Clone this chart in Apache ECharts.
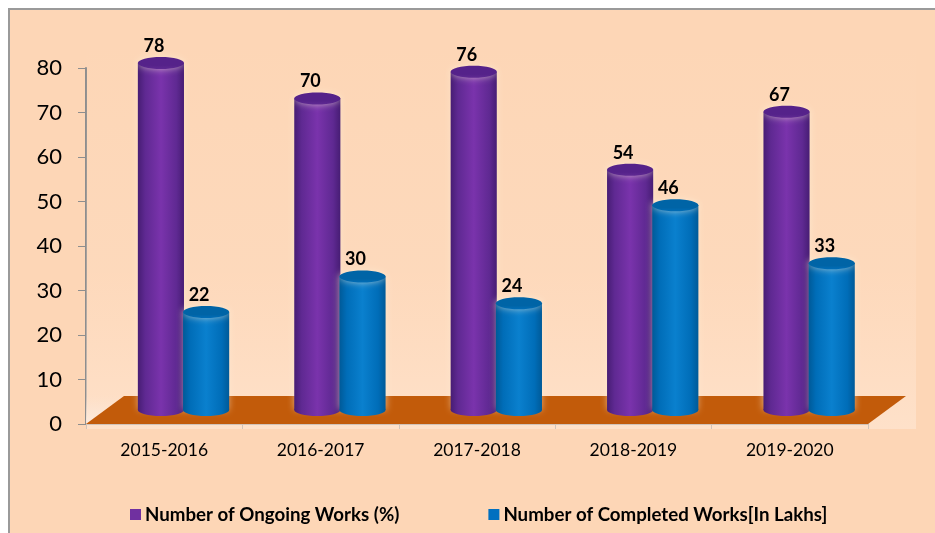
<!DOCTYPE html>
<html>
<head>
<meta charset="utf-8">
<style>html,body{margin:0;padding:0;background:#fff}#c{width:935px;height:533px}</style>
<script src="https://cdn.jsdelivr.net/npm/echarts@6/dist/echarts.min.js"></script>
</head>
<body>
<div id="c"></div>
<script>
const categories = ['2015-2016','2016-2017','2017-2018','2018-2019','2019-2020'];
const ongoingWorks = [78,70,76,54,67];
const completedWorks = [22,30,24,46,33];
const ongoingName = 'Number of Ongoing Works (%)';
const completedName = 'Number of Completed Works[In Lakhs]';
const yTicks = {min:0,max:80,interval:10};

const font = 'Lato, "Open Sans", sans-serif';
const depthY = 14, floorDepthY = 28, floorDepthX = 38;

function cylinder(shift, edge, side, mid, top){
  return function(params, api){
    const idx = api.value(0), v = api.value(1);
    const p = api.coord([idx, v]), b = api.coord([idx, 0]);
    const band = api.size([1,0])[0];
    const w = band*0.295, rx = w/2, ry = 6;
    const cx = p[0] + band*shift;
    const ty = p[1]-depthY, by = b[1]-depthY;
    const fill = {type:'linear',x:0,y:0,x2:1,y2:0,colorStops:[
      {offset:0,color:edge},{offset:.16,color:side},{offset:.5,color:mid},{offset:.84,color:side},{offset:1,color:edge}]};
    const glow = {shadowColor:'rgba(255,240,216,.6)',shadowBlur:7};
    const capFill = {type:'linear',x:0,y:0,x2:0,y2:1,colorStops:[
      {offset:0,color:top},{offset:.7,color:top},{offset:1,color:side}]};
    return {type:'group',children:[
      {type:'rect',shape:{x:cx-rx,y:ty,width:w,height:by-ty},style:Object.assign({fill:fill},glow)},
      {type:'ellipse',shape:{cx:cx,cy:by,rx:rx,ry:ry},style:{fill:fill}},
      {type:'ellipse',shape:{cx:cx,cy:ty,rx:rx,ry:ry},style:Object.assign({fill:capFill},glow)},
      {type:'text',x:cx-7,y:ty-ry-11,style:{text:String(v),fill:'#000',font:'bold 18px '+font,align:'center',verticalAlign:'middle'}}
    ]};
  };
}

function stage(params, api){
  const a = api.coord([0,0]), sys = params.coordSys;
  const L = sys.x, R = sys.x+sys.width, Y = a[1], T = sys.y;
  return {type:'group',silent:true,children:[
    {type:'polygon',shape:{points:[[L,T-26],[R+48,T-26],[R+48,Y+5],[L,Y+5]]},
      style:{fill:{type:'linear',x:0,y:0,x2:0,y2:1,colorStops:[
        {offset:0,color:'rgba(255,226,204,0)'},{offset:.6,color:'rgba(255,226,204,.25)'},{offset:1,color:'rgba(255,232,214,.6)'}]}}},
    {type:'polygon',shape:{points:[[L,Y],[L+floorDepthX,Y-floorDepthY],[L,Y-floorDepthY]]},
      style:{fill:{type:'linear',x:0,y:0,x2:0,y2:1,colorStops:[
        {offset:0,color:'rgba(251,230,214,0)'},{offset:1,color:'#FCEBDE'}]}}},
    {type:'polygon',shape:{points:[[L,Y],[L+floorDepthX,Y-floorDepthY],[R+floorDepthX,Y-floorDepthY],[R,Y]]},style:{fill:'#C25B0A'}}
  ]};
}

const chart = echarts.init(document.getElementById('c'),null,{renderer:'canvas'});
chart.setOption({
  animation:false,
  graphic:[{type:'rect',z:-10,shape:{x:9,y:9,width:960,height:560},style:{fill:'#FDD6B6',stroke:'#9A9A9A',lineWidth:2}}],
  grid:{left:86,right:67,top:68,bottom:109},
  legend:{left:125,top:500,itemWidth:11,itemHeight:11,itemGap:89,icon:'rect',
    data:[ongoingName,completedName],
    textStyle:{fontFamily:font,fontWeight:'bold',fontSize:18.7,color:'#000',padding:[0,0,0,-1]}},
  xAxis:{type:'category',data:categories,
    axisLine:{lineStyle:{color:'#8E8E8E',width:2}},
    axisTick:{show:true,length:5,alignWithLabel:false,lineStyle:{color:'#8E8E8E'}},
    axisLabel:{fontFamily:font,fontSize:17.5,color:'#000',margin:17}},
  yAxis:{type:'value',min:yTicks.min,max:yTicks.max,interval:yTicks.interval,
    splitLine:{show:false},
    axisLine:{show:true,lineStyle:{color:'#8E8E8E',width:2}},
    axisTick:{show:true,length:8,lineStyle:{color:'#8E8E8E'}},
    axisLabel:{fontFamily:font,fontSize:22,color:'#000',margin:24}},
  series:[
    {type:'custom',name:'stage',coordinateSystem:'cartesian2d',silent:true,z:1,data:[[0,0]],renderItem:stage,encode:{x:0,y:1}},
    {type:'custom',name:ongoingName,coordinateSystem:'cartesian2d',z:2,itemStyle:{color:'#7030A0'},
      data:ongoingWorks.map((v,i)=>[i,v]),encode:{x:0,y:1},
      renderItem:cylinder(-0.021,'#471D74','#5F2992','#7A33AC','#55228A')},
    {type:'custom',name:completedName,coordinateSystem:'cartesian2d',z:3,itemStyle:{color:'#0070C0'},
      data:completedWorks.map((v,i)=>[i,v]),encode:{x:0,y:1},
      renderItem:cylinder(0.268,'#005A98','#006DB8','#0A80CE','#0064A6')}
  ]
});
</script>
</body>
</html>
